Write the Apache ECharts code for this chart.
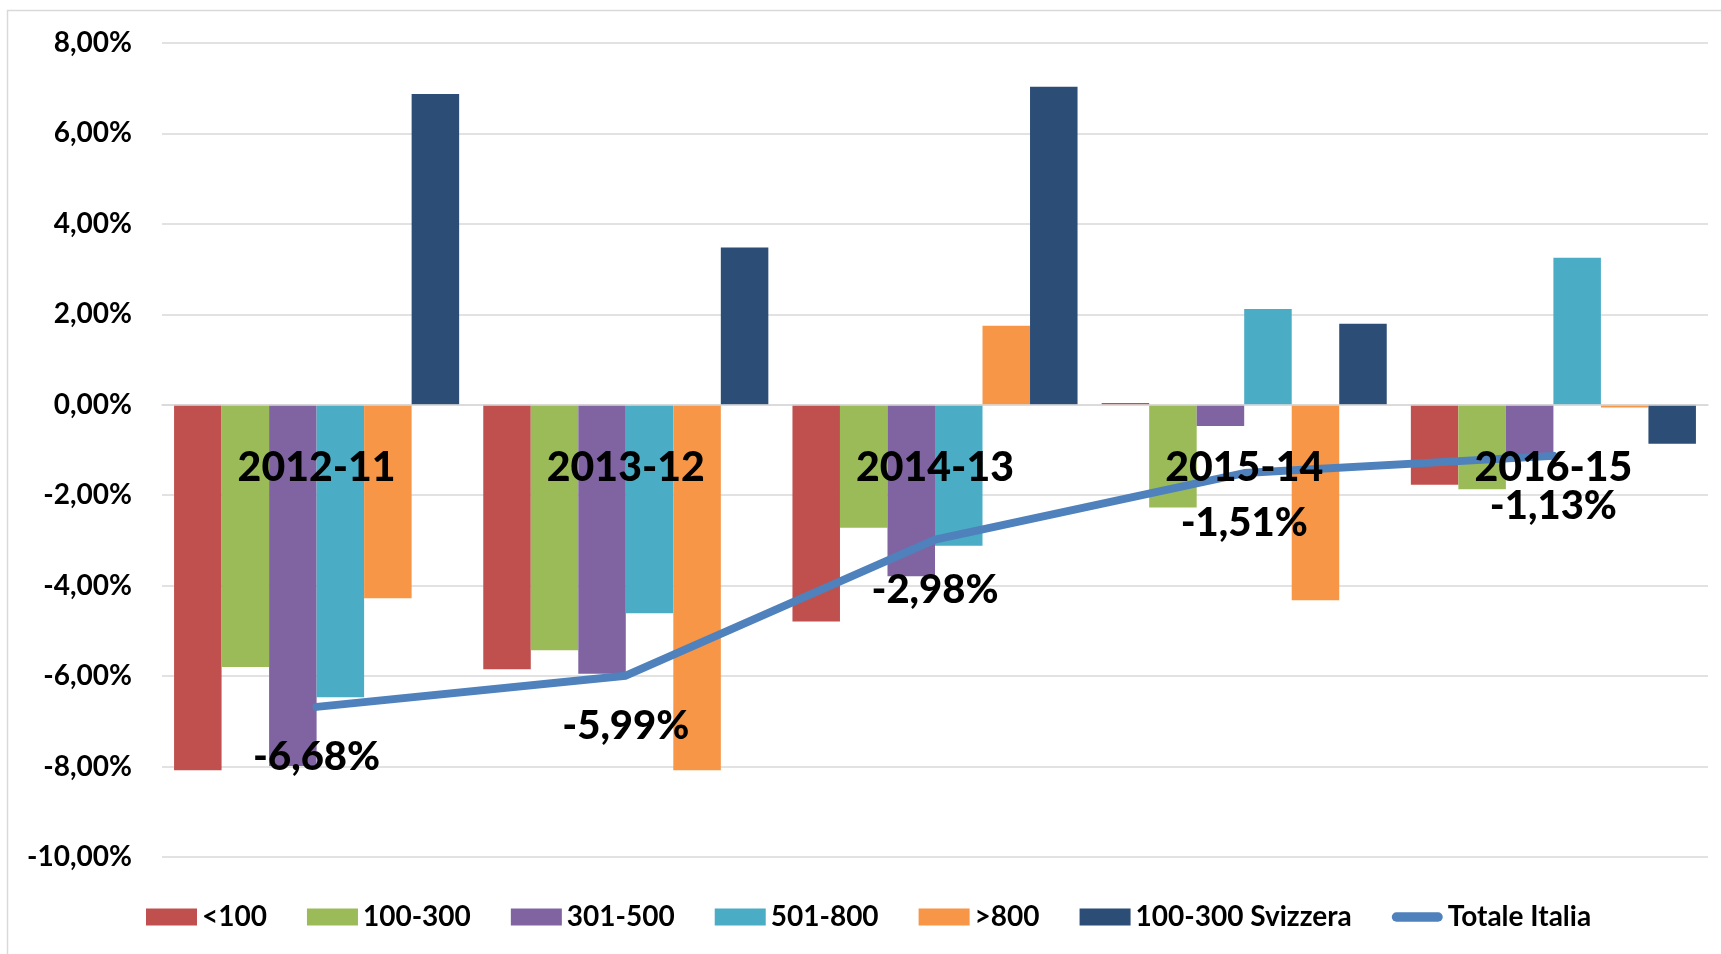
<!DOCTYPE html>
<html>
<head>
<meta charset="utf-8">
<script src="https://cdn.jsdelivr.net/npm/echarts@6/dist/echarts.min.js"></script>
<style>
html,body{margin:0;padding:0;background:#fff;}
#chart{width:1721px;height:954px;}
</style>
</head>
<body>
<div id="chart"></div>
<script>
const categories = ['2012-11', '2013-12', '2014-13', '2015-14', '2016-15'];
const seriesNames = ['<100', '100-300', '301-500', '501-800', '>800', '100-300 Svizzera'];
const lt100      = [-8.08, -5.85, -4.79,  0.04, -1.77];
const s100_300   = [-5.80, -5.43, -2.72, -2.27, -1.87];
const s301_500   = [-7.99, -5.95, -3.79, -0.47, -1.10];
const s501_800   = [-6.47, -4.61, -3.12,  2.12,  3.25];
const gt800      = [-4.28, -8.08,  1.75, -4.32, -0.06];
const svizzera   = [ 6.87,  3.48,  7.03,  1.79, -0.86];
const totaleItalia = [-6.68, -5.99, -2.98, -1.51, -1.13];
const lineName = 'Totale Italia';
const categoryBaseline = [0, 0, 0, 0, 0];
const yTicks = { min: -10, max: 8, interval: 2 };

const barData = [lt100, s100_300, s301_500, s501_800, gt800, svizzera];
const colors = ['#C0504D', '#9BBB59', '#8064A2', '#4BACC6', '#F79646', '#2C4D75'];
const fmt = v => v.toFixed(2).replace('.', ',') + '%';
const FONT = 'Lato, "Open Sans", sans-serif';
const BIGW = 900;

const chart = echarts.init(document.getElementById('chart'));
const series = seriesNames.map((n, i) => ({
  name: n,
  type: 'bar',
  data: barData[i],
  barGap: '0%',
  barCategoryGap: '7.8%',
  itemStyle: { color: colors[i] },
  z: 2
}));
series.push({
  name: lineName,
  type: 'line',
  data: totaleItalia,
  symbol: 'circle',
  symbolSize: 1,
  showSymbol: true,
  lineStyle: { color: '#4F81BD', width: 8, cap: 'round', join: 'round' },
  itemStyle: { color: '#4F81BD' },
  z: 5,
  label: {
    show: true,
    position: 'bottom',
    distance: 30,
    formatter: p => fmt(p.value),
    fontFamily: FONT,
    fontWeight: BIGW,
    fontSize: 40,
    color: '#000'
  }
});
// category labels anchored on the zero line (Excel "next to axis")
series.push({
  name: '__categories',
  type: 'line',
  data: categoryBaseline,
  symbol: 'circle',
  symbolSize: 1,
  showSymbol: true,
  lineStyle: { opacity: 0 },
  itemStyle: { color: 'rgba(0,0,0,0)' },
  z: 8,
  silent: true,
  label: {
    show: true,
    position: 'bottom',
    distance: 42,
    formatter: p => p.name,
    fontFamily: FONT,
    fontWeight: BIGW,
    fontSize: 41,
    color: '#000'
  }
});

chart.setOption({
  animation: false,
  backgroundColor: '#fff',
  graphic: [{
    type: 'rect',
    shape: { x: 7.5, y: 10.5, width: 1800, height: 1000 },
    style: { fill: 'none', stroke: '#D9D9D9', lineWidth: 1.5 },
    silent: true, z: -10
  }],
  grid: { left: 162, right: 13, top: 43, bottom: 97, containLabel: false },
  legend: {
    bottom: 18,
    left: 141,
    itemWidth: 51,
    itemHeight: 17,
    itemGap: 40,
    textStyle: { fontFamily: FONT, fontWeight: 'bold', fontSize: 28, color: '#000' },
    data: seriesNames.map(n => ({ name: n, icon: 'rect' })).concat([{
      name: lineName,
      icon: 'path://M5.5,0 L53.5,0 A5.5,5.5 0 0 1 53.5,11 L5.5,11 A5.5,5.5 0 0 1 5.5,0 Z'
    }])
  },
  xAxis: {
    type: 'category',
    data: categories,
    z: 10,
    axisLine: { onZero: true, lineStyle: { color: '#D9D9D9', width: 1.5 } },
    axisTick: { show: false },
    axisLabel: { show: false }
  },
  yAxis: {
    type: 'value',
    min: yTicks.min, max: yTicks.max, interval: yTicks.interval,
    axisLine: { show: false },
    axisTick: { show: false },
    splitLine: { lineStyle: { color: '#D9D9D9', width: 1.5 } },
    axisLabel: {
      margin: 30,
      formatter: fmt,
      fontFamily: FONT,
      fontWeight: 'bold',
      fontSize: 28,
      color: '#000'
    }
  },
  series: series
});
</script>
</body>
</html>
